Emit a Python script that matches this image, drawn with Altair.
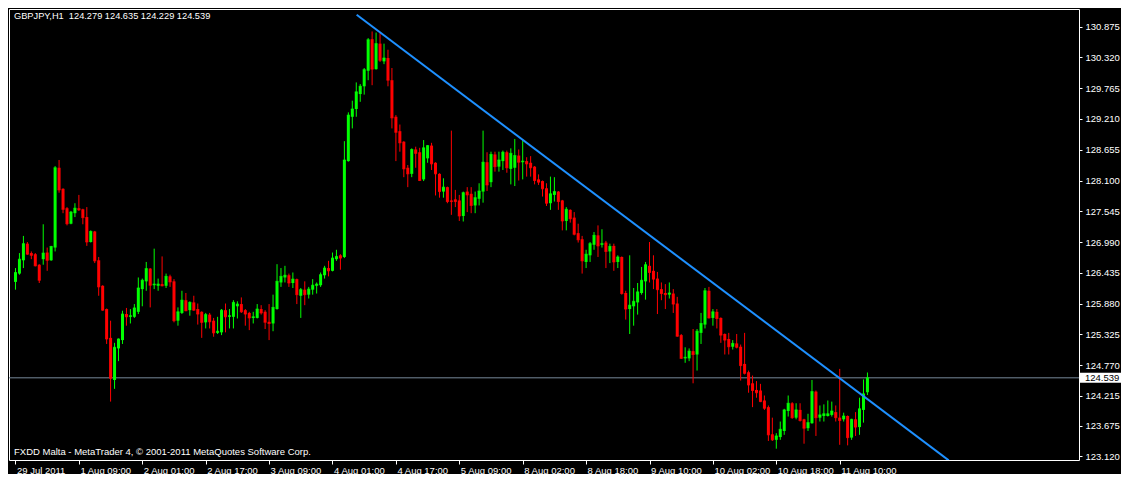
import altair as alt
import pandas as pd
import numpy as np

# ---------------- data (GBPJPY, H1) ----------------
open_ = [
    126.27, 126.42, 126.66, 126.96, 126.79, 126.77, 126.58, 126.68, 126.80, 126.66,
    126.89, 128.33, 127.95, 127.60, 127.32, 127.51, 127.60, 127.58, 127.44, 126.99,
    127.18, 126.66, 126.20, 125.78, 125.26, 124.50, 125.07, 125.22, 125.69, 125.64,
    125.64, 125.73, 126.14, 126.28, 126.51, 126.21, 126.20, 126.23, 126.20, 126.37,
    126.28, 125.57, 125.71, 125.94, 125.76, 125.90, 125.78, 125.73, 125.54, 125.68,
    125.57, 125.35, 125.36, 125.76, 125.64, 125.64, 125.83, 125.87, 125.76, 125.71,
    125.62, 125.62, 125.78, 125.73, 125.55, 125.52, 125.78, 126.26, 126.35, 126.39,
    126.25, 126.32, 126.02, 126.13, 126.04, 126.13, 126.20, 126.21, 126.39, 126.52,
    126.47, 126.68, 126.75, 126.72, 128.45, 129.25, 129.39, 129.66, 129.80, 130.08,
    130.65, 130.11, 130.57, 130.25, 130.31, 129.91, 129.25, 128.99, 128.80, 128.33,
    128.22, 128.66, 128.61, 128.12, 128.50, 128.73, 128.42, 128.22, 127.90, 127.98,
    127.74, 127.76, 127.74, 127.46, 127.90, 127.86, 127.65, 127.77, 127.90, 128.43,
    128.07, 128.57, 128.35, 128.45, 128.61, 128.31, 128.33, 128.55, 128.43, 128.45,
    128.42, 128.35, 128.12, 128.09, 127.96, 127.69, 127.84, 127.90, 127.74, 127.37,
    127.57, 127.43, 127.15, 127.04, 126.63, 126.75, 126.94, 127.11, 126.94, 126.98,
    126.82, 126.92, 126.63, 126.72, 126.07, 125.78, 125.83, 125.90, 126.07, 126.28,
    126.56, 126.47, 126.33, 126.14, 126.07, 126.04, 126.06, 125.88, 125.31, 124.89,
    124.89, 125.02, 124.96, 125.35, 125.50, 126.11, 125.62, 125.73, 125.62, 125.33,
    125.24, 125.10, 125.16, 125.10, 124.79, 124.64, 124.44, 124.32, 124.31, 124.13,
    124.01, 123.52, 123.42, 123.47, 123.58, 123.94, 124.08, 123.82, 123.96, 123.79,
    123.63, 123.72, 124.29, 123.82, 123.85, 123.85, 123.87, 123.92, 123.82, 123.79,
    123.85, 123.46, 123.79, 123.65, 123.96, 124.279,
]
high = [
    126.52, 126.79, 127.10, 126.99, 126.82, 126.79, 126.59, 127.31, 126.89, 126.92,
    128.36, 128.47, 127.96, 127.62, 127.55, 127.69, 127.84, 127.59, 127.62, 127.20,
    127.19, 126.72, 126.21, 125.79, 125.57, 125.17, 125.25, 125.75, 125.80, 125.78,
    125.87, 126.35, 126.33, 126.63, 126.52, 126.87, 126.33, 126.73, 126.42, 126.40,
    126.32, 125.81, 126.11, 126.07, 125.92, 126.02, 125.88, 125.74, 125.71, 125.71,
    125.62, 125.64, 125.78, 125.88, 125.78, 125.94, 125.92, 125.99, 125.78, 125.73,
    125.73, 125.87, 125.85, 125.76, 125.87, 126.04, 126.59, 126.52, 126.56, 126.42,
    126.44, 126.33, 126.16, 126.28, 126.18, 126.32, 126.26, 126.44, 126.56, 126.65,
    126.80, 126.85, 126.77, 128.81, 129.33, 129.54, 129.87, 129.84, 130.13, 130.67,
    130.79, 130.77, 130.76, 130.57, 130.46, 130.13, 129.28, 129.11, 128.81, 128.38,
    128.68, 128.71, 128.69, 128.83, 128.74, 128.78, 128.43, 128.23, 128.14, 127.99,
    129.00, 127.93, 127.84, 127.90, 127.98, 127.98, 127.90, 128.05, 129.00, 128.61,
    128.62, 128.62, 128.62, 128.64, 128.64, 128.68, 128.85, 128.66, 128.83, 128.52,
    128.54, 128.36, 128.21, 128.10, 128.05, 128.17, 128.16, 127.91, 127.75, 127.62,
    127.58, 127.53, 127.32, 127.10, 126.85, 126.99, 127.17, 127.29, 127.22, 127.01,
    126.96, 126.96, 126.75, 126.73, 126.11, 126.75, 126.16, 126.25, 126.54, 126.63,
    126.99, 126.75, 126.45, 126.26, 126.23, 126.26, 126.14, 126.00, 125.33, 125.09,
    125.07, 125.42, 125.42, 125.71, 126.16, 126.18, 125.78, 125.78, 125.63, 125.34,
    125.35, 125.22, 125.33, 125.14, 125.35, 124.67, 124.58, 124.48, 124.43, 124.22,
    124.04, 123.82, 123.54, 123.75, 123.98, 124.22, 124.10, 124.08, 124.08, 123.80,
    123.89, 124.50, 124.31, 124.04, 124.06, 124.13, 124.11, 124.04, 124.70, 123.91,
    123.86, 123.80, 123.92, 124.18, 124.51, 124.635,
]
low = [
    126.13, 126.40, 126.52, 126.76, 126.68, 126.55, 126.25, 126.58, 126.47, 126.65,
    126.82, 127.88, 127.51, 127.29, 127.31, 127.44, 127.55, 127.31, 126.92, 126.98,
    126.61, 126.02, 125.75, 125.15, 124.11, 124.34, 124.84, 125.15, 125.48, 125.52,
    125.62, 125.69, 125.83, 126.11, 125.81, 126.14, 126.11, 126.19, 126.16, 126.18,
    125.54, 125.48, 125.69, 125.74, 125.66, 125.75, 125.50, 125.26, 125.43, 125.43,
    125.28, 125.33, 125.31, 125.36, 125.43, 125.43, 125.61, 125.71, 125.48, 125.40,
    125.52, 125.61, 125.68, 125.42, 125.22, 125.38, 125.77, 126.18, 126.26, 126.18,
    126.16, 125.87, 125.62, 125.85, 125.97, 126.04, 126.06, 126.18, 126.33, 126.37,
    126.46, 126.65, 126.49, 126.70, 128.44, 129.04, 129.25, 129.52, 129.65, 129.91,
    129.82, 130.10, 130.24, 130.20, 129.80, 129.04, 128.45, 128.62, 128.16, 127.98,
    128.16, 128.33, 128.09, 128.09, 128.42, 128.29, 127.83, 127.79, 127.79, 127.69,
    127.48, 127.62, 127.37, 127.36, 127.53, 127.51, 127.51, 127.65, 127.70, 127.91,
    127.98, 128.26, 128.26, 128.29, 128.24, 128.03, 128.00, 128.10, 128.12, 128.17,
    128.17, 128.03, 128.02, 127.81, 127.64, 127.57, 127.72, 127.57, 127.20, 127.20,
    127.34, 127.11, 126.98, 126.42, 126.52, 126.63, 126.85, 126.72, 126.89, 126.52,
    126.61, 126.47, 126.52, 126.04, 125.59, 125.33, 125.48, 125.68, 126.04, 125.95,
    126.26, 126.14, 125.69, 125.94, 125.78, 125.97, 125.71, 125.28, 124.88, 124.81,
    124.84, 124.44, 124.67, 125.15, 125.43, 125.61, 125.48, 125.43, 125.17, 124.96,
    124.96, 125.05, 125.07, 124.49, 124.60, 124.27, 124.01, 124.18, 124.10, 123.96,
    123.40, 123.40, 123.26, 123.42, 123.51, 123.84, 123.80, 123.79, 123.75, 123.35,
    123.58, 123.71, 123.49, 123.75, 123.75, 123.84, 123.84, 123.75, 123.33, 123.75,
    123.32, 123.42, 123.49, 123.51, 123.73, 124.229,
]
close = [
    126.44, 126.68, 126.96, 126.77, 126.75, 126.56, 126.30, 126.79, 126.66, 126.91,
    128.33, 127.93, 127.58, 127.32, 127.53, 127.60, 127.57, 127.43, 126.99, 127.18,
    126.65, 126.18, 125.76, 125.24, 124.53, 125.09, 125.24, 125.69, 125.64, 125.66,
    125.80, 126.16, 126.30, 126.51, 126.21, 126.23, 126.23, 126.20, 126.37, 126.27,
    125.57, 125.73, 125.94, 125.75, 125.90, 125.76, 125.69, 125.54, 125.68, 125.55,
    125.35, 125.38, 125.76, 125.64, 125.66, 125.90, 125.87, 125.73, 125.69, 125.62,
    125.64, 125.78, 125.71, 125.54, 125.52, 125.81, 126.28, 126.37, 126.39, 126.25,
    126.32, 126.04, 126.13, 126.04, 126.14, 126.21, 126.23, 126.40, 126.52, 126.47,
    126.70, 126.73, 126.70, 128.47, 129.28, 129.39, 129.70, 129.80, 130.10, 130.64,
    130.11, 130.57, 130.27, 130.31, 129.91, 129.23, 128.97, 128.78, 128.31, 128.22,
    128.66, 128.59, 128.10, 128.69, 128.73, 128.40, 128.22, 127.90, 127.98, 127.72,
    127.72, 127.72, 127.46, 127.88, 127.84, 127.65, 127.79, 127.91, 128.43, 128.02,
    128.57, 128.35, 128.47, 128.61, 128.33, 128.59, 128.55, 128.43, 128.45, 128.40,
    128.33, 128.10, 128.07, 127.95, 127.69, 127.86, 127.90, 127.72, 127.37, 127.58,
    127.41, 127.13, 127.03, 126.65, 126.77, 126.96, 127.11, 126.92, 126.96, 126.82,
    126.91, 126.63, 126.72, 126.06, 125.78, 125.85, 125.92, 126.09, 126.30, 126.58,
    126.44, 126.32, 126.13, 126.06, 126.04, 126.07, 125.87, 125.29, 124.89, 124.91,
    125.02, 124.96, 125.38, 125.52, 126.11, 125.62, 125.73, 125.61, 125.31, 125.22,
    125.10, 125.16, 125.09, 124.76, 124.62, 124.41, 124.31, 124.27, 124.11, 123.99,
    123.51, 123.42, 123.49, 123.61, 123.96, 124.08, 123.82, 123.96, 123.77, 123.63,
    123.73, 124.29, 123.82, 123.87, 123.89, 123.89, 123.94, 123.82, 123.77, 123.85,
    123.46, 123.79, 123.65, 123.98, 124.25, 124.539,
]

date_labels = ["29 Jul 2011", "1 Aug 09:00", "2 Aug 01:00", "2 Aug 17:00", "3 Aug 09:00",
               "4 Aug 01:00", "4 Aug 17:00", "5 Aug 09:00", "8 Aug 02:00", "8 Aug 18:00",
               "9 Aug 10:00", "10 Aug 02:00", "10 Aug 18:00", "11 Aug 10:00"]
date_tick_bars = [0, 16, 32, 48, 64, 80, 96, 112, 128, 144, 160, 176, 192, 208]
price_ticks = [130.875, 130.320, 129.765, 129.210, 128.655, 128.100, 127.545, 126.990,
               126.435, 125.880, 125.325, 124.770, 124.215, 123.675, 123.120]

trend_bar = [86.1, 235.5]
trend_price = [131.09, 123.05]

symbol = "GBPJPY,H1"
copyright_text = "FXDD Malta - MetaTrader 4, \u00a9 2001-2011 MetaQuotes Software Corp."

# ---------------- frames ----------------
n = len(close)
df = pd.DataFrame({"bar": np.arange(n), "open": open_, "high": high, "low": low, "close": close})
df["body_lo"] = df[["open", "close"]].min(axis=1)
df["body_hi"] = df[["open", "close"]].max(axis=1)
df["dir"] = np.where(df["close"] >= df["open"], "up", "down")
last = df.iloc[[-1]].reset_index(drop=True)
trend_df = pd.DataFrame({"bar": trend_bar, "price": trend_price})
header = "{}\u00a0 {:.3f} {:.3f} {:.3f} {:.3f}".format(
    symbol, open_[-1], high[-1], low[-1], close[-1])
header_df = pd.DataFrame({"t": [header]})
copy_df = pd.DataFrame({"t": [copyright_text]})

# ---------------- styling ----------------
W, H = 1070, 451
FONT = "Liberation Sans"
FS = 9.5
FG = "#FFFFFF"
UP, DOWN = "#00FF00", "#FF0000"

x_scale = alt.Scale(domain=[-0.375, 267.125], nice=False, zero=False)
y_scale = alt.Scale(domain=[123.056, 131.195], nice=False, zero=False)

labels_js = "[" + ",".join("'{}'".format(s) for s in date_labels) + "]"
ticks_js = "[" + ",".join(str(v) for v in date_tick_bars) + "]"
x_axis = alt.Axis(title=None, values=date_tick_bars,
                  labelExpr="{}[indexof({}, datum.value)]".format(labels_js, ticks_js),
                  labelAlign="left", labelBaseline="top", labelPadding=1, labelOffset=1,
                  tickSize=4, tickColor=FG, labelColor=FG, labelFont=FONT, labelFontSize=FS,
                  domain=False, grid=False, labelOverlap=False, labelBound=False, labelFlush=False)
y_axis = alt.Axis(title=None, orient="right", values=price_ticks, format=".3f",
                  tickSize=3, tickColor=FG, labelPadding=3, labelColor=FG, labelFont=FONT,
                  labelFontSize=FS, domain=False, grid=False, labelOverlap=False,
                  labelBound=False, labelFlush=False)


def X(field):
    return alt.X(field + ":Q", scale=x_scale, axis=x_axis)


def Y(field):
    return alt.Y(field + ":Q", scale=y_scale, axis=y_axis)


col = alt.Color("dir:N", scale=alt.Scale(domain=["up", "down"], range=[UP, DOWN]), legend=None)

bid_line = alt.Chart(last).mark_rule(color="#778899", strokeWidth=1).encode(y=Y("close"))
wicks = alt.Chart(df).mark_rule(strokeWidth=1).encode(x=X("bar"), y=Y("low"), y2="high", color=col)
bodies = alt.Chart(df).mark_bar(size=3).encode(x=X("bar"), y=Y("body_lo"), y2="body_hi", color=col)
doji = alt.Chart(df).mark_tick(orient="horizontal", size=3, thickness=1).encode(
    x=X("bar"), y=Y("close"), color=col)
trend = alt.Chart(trend_df).mark_line(color="#1E90FF", strokeWidth=2, clip=True).encode(
    x=X("bar"), y=Y("price"))
price_box = alt.Chart(last).mark_rule(color=FG, strokeWidth=10).encode(
    x=alt.value(W + 1), x2=alt.value(W + 42), y=Y("close"))
price_txt = alt.Chart(last).mark_text(align="left", baseline="middle", color="#000000",
                                      font=FONT, fontSize=FS).encode(
    x=alt.value(W + 6), y=Y("close"), text=alt.Text("close:Q", format=".3f"))
header_txt = alt.Chart(header_df).mark_text(align="left", baseline="middle", color=FG,
                                            font=FONT, fontSize=9.25).encode(
    x=alt.value(5), y=alt.value(7), text="t:N")
copy_txt = alt.Chart(copy_df).mark_text(align="left", baseline="middle", color=FG,
                                        font=FONT, fontSize=FS).encode(
    x=alt.value(5), y=alt.value(443), text="t:N")

chart = alt.layer(bid_line, wicks, bodies, doji, trend, price_box, price_txt,
                  header_txt, copy_txt).properties(
    width=W, height=H, background="#000000",
    padding={"left": 1, "top": 1, "right": 42, "bottom": 14},
    autosize=alt.AutoSizeParams(type="none"),
).configure_view(stroke=FG, strokeWidth=1)

chart.save("out.html", embed_options={"renderer": "svg", "actions": False})
